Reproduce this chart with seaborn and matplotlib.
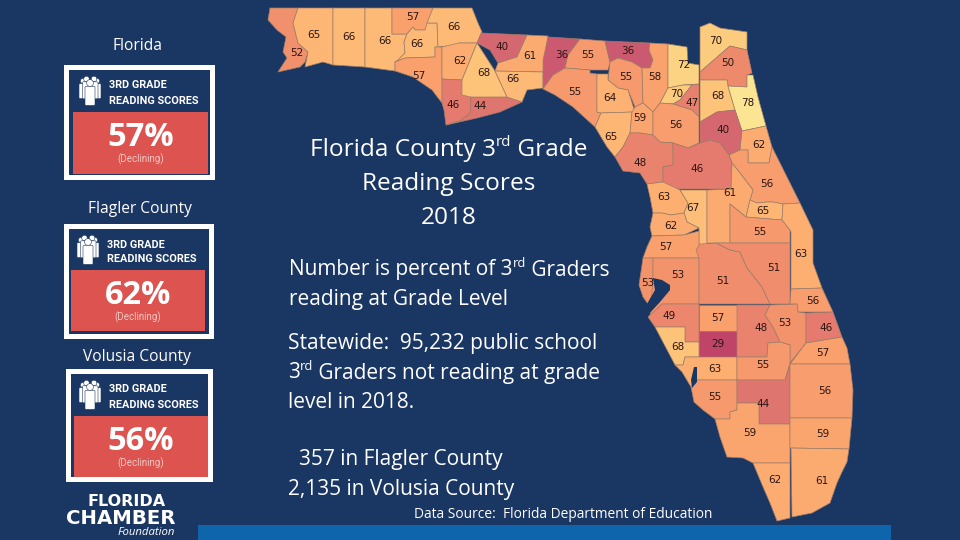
import matplotlib
matplotlib.use("Agg")
import matplotlib.pyplot as plt
import seaborn as sns
from matplotlib.patches import Rectangle, Circle, FancyBboxPatch, Polygon

# map is traced in picture pixels, so the axes run 0-960 / 540-0
navy = '#1a3663'
red = '#dc5350'
edge = '#a07f68'
bar_blue = '#0e65ab'

county_names = ['Escambia', 'Santa Rosa', 'Okaloosa', 'Walton', 'Holmes', 'Washington', 'Jackson', 'Bay',
                'Calhoun', 'Gulf', 'Franklin', 'Liberty', 'Gadsden', 'Leon', 'Wakulla', 'Jefferson',
                'Madison', 'Taylor', 'Hamilton', 'Suwannee', 'Columbia', 'Lafayette', 'Dixie', 'Gilchrist',
                'Baker', 'Union', 'Bradford', 'Alachua', 'Nassau', 'Duval', 'Clay', 'St Johns',
                'Putnam', 'Flagler', 'Volusia', 'Levy', 'Marion', 'Citrus', 'Sumter', 'Hernando',
                'Pasco', 'Lake', 'Seminole', 'Orange', 'Brevard', 'Pinellas', 'Hillsborough', 'Polk',
                'Osceola', 'Indian River', 'Manatee', 'Hardee', 'DeSoto', 'Sarasota', 'Highlands', 'Okeechobee',
                'St Lucie', 'Martin', 'Charlotte', 'Glades', 'Lee', 'Hendry', 'Collier', 'Palm Beach',
                'Broward', 'Dade', 'Monroe']
county_scores = [52, 65, 66, 66, 57, 66, 66, 57,
                 62, 46, 44, 68, 40, 61, 66, 36,
                 55, 55, 36, 55, 58, 64, 65, 59,
                 72, 70, 47, 56, 70, 50, 68, 78,
                 40, 62, 56, 48, 46, 63, 67, 62,
                 57, 61, 65, 55, 63, 53, 53, 51,
                 51, 56, 49, 57, 29, 68, 48, 53,
                 46, 57, 63, 55, 55, 44, 59, 56,
                 59, 61, 62]

county_outlines = {
    'Escambia': [(270,8),(298,8),(293,23),(298,43),(308,52),(305,62),(300,67),(278,72),(287,58),(283,52),(286,37),(277,30),(268,20)],
    'Santa Rosa': [(298,8),(333,8),(333,65),(323,62),(305,67),(308,52),(298,43),(293,23)],
    'Okaloosa': [(333,8),(365,8),(365,67),(333,65)],
    'Walton': [(365,8),(392,8),(392,34),(407,34),(404,42),(405,53),(398,60),(395,62),(395,71),(365,67)],
    'Holmes': [(392,8),(433,8),(425,30),(415,30),(413,27),(407,34),(392,34)],
    'Washington': [(407,34),(413,27),(415,30),(425,30),(427,23),(437,23),(438,47),(435,47),(435,57),(405,58),(395,62),(398,60),(405,53),(404,42)],
    'Jackson': [(433,8),(472,8),(478,23),(482,32),(477,43),(459,43),(458,45),(438,47),(437,23),(427,23)],
    'Bay': [(395,62),(405,58),(435,57),(435,47),(442,47),(442,103),(432,90),(413,77),(395,71)],
    'Calhoun': [(442,47),(459,43),(477,43),(462,80),(442,79)],
    'Gulf': [(442,79),(462,80),(471,97),(470,113),(460,121),(446,125),(444,110),(442,103)],
    'Franklin': [(471,97),(507,97),(522,102),(500,112),(477,118),(446,125),(460,121),(470,113)],
    'Liberty': [(477,43),(495,71),(507,97),(471,97),(462,95),(462,80)],
    'Gadsden': [(481,33),(527,35),(517,57),(498,63),(490,50),(477,43)],
    'Leon': [(527,35),(548,36),(543,72),(495,71),(498,63),(517,57)],
    'Wakulla': [(495,71),(543,72),(543,88),(527,90),(522,102),(507,97)],
    'Jefferson': [(548,37),(580,39),(568,55),(565,68),(553,75),(543,89),(543,60)],
    'Madison': [(580,39),(605,41),(610,62),(608,70),(590,70),(565,68),(568,55)],
    'Taylor': [(565,68),(590,70),(590,73),(597,74),(597,112),(601,113),(595,127),(573,107),(555,95),(543,89),(553,75)],
    'Hamilton': [(605,41),(650,43),(649,50),(653,60),(650,68),(642,68),(632,62),(618,58),(610,62)],
    'Suwannee': [(610,62),(618,58),(632,62),(642,68),(643,103),(635,107),(628,90),(618,88),(608,80)],
    'Columbia': [(650,43),(668,44),(668,88),(660,103),(653,112),(643,103),(642,68),(650,68),(653,60),(649,50)],
    'Lafayette': [(597,74),(608,74),(608,80),(618,88),(628,90),(635,112),(601,113),(597,112)],
    'Dixie': [(601,113),(632,112),(630,133),(623,147),(615,157),(607,147),(595,127)],
    'Gilchrist': [(635,107),(643,103),(653,112),(653,135),(640,133),(630,133),(632,112)],
    'Baker': [(668,44),(687,47),(688,63),(699,65),(699,84),(683,85),(668,88)],
    'Union': [(668,88),(683,85),(692,85),(680,100),(673,104),(660,103)],
    'Bradford': [(692,85),(699,84),(699,117),(692,110),(673,104),(680,100)],
    'Alachua': [(660,103),(673,104),(692,110),(699,117),(699,143),(688,148),(673,143),(660,142),(653,135),(653,112)],
    'Nassau': [(700,27),(710,23),(720,28),(747,32),(747,50),(730,46),(700,72)],
    'Duval': [(700,72),(730,46),(747,50),(752,73),(747,75),(747,87),(728,86),(727,80),(700,80)],
    'Clay': [(700,80),(727,80),(728,86),(735,110),(717,112),(700,122)],
    'St Johns': [(728,86),(747,87),(747,75),(753,75),(758,97),(766,126),(742,131),(735,110)],
    'Putnam': [(700,122),(717,112),(735,110),(742,131),(740,150),(729,155),(720,143),(710,140),(700,143)],
    'Flagler': [(742,131),(766,126),(772,147),(769,163),(748,163),(748,150),(740,150)],
    'Volusia': [(729,155),(740,150),(748,150),(748,163),(769,163),(772,147),(800,203),(783,204),(773,202),(767,202),(757,203),(750,200),(753,190),(740,173),(732,163)],
    'Levy': [(630,133),(640,133),(653,135),(660,142),(673,143),(673,165),(663,167),(663,182),(647,184),(640,173),(623,171),(615,157),(623,147)],
    'Marion': [(673,143),(688,148),(700,143),(710,140),(720,143),(729,155),(732,163),(731,189),(663,189),(663,167),(673,165)],
    'Citrus': [(647,184),(663,182),(680,190),(688,203),(684,213),(671,215),(662,213),(653,213),(650,197)],
    'Sumter': [(680,190),(707,190),(707,246),(699,246),(699,228),(687,222),(684,213),(688,203)],
    'Hernando': [(653,213),(662,213),(671,215),(684,213),(687,222),(699,228),(684,235),(652,236),(650,227)],
    'Pasco': [(652,236),(684,235),(699,231),(699,258),(643,258),(647,247)],
    'Lake': [(707,190),(731,189),(732,163),(740,173),(753,190),(750,200),(746,217),(730,204),(730,243),(707,243)],
    'Seminole': [(746,217),(750,200),(757,203),(767,202),(773,202),(783,204),(782,220)],
    'Orange': [(730,204),(746,217),(782,220),(790,230),(790,243),(730,243)],
    'Brevard': [(783,204),(800,203),(813,230),(813,263),(822,288),(791,289),(791,232),(790,230),(782,220)],
    'Pinellas': [(643,258),(653,258),(653,278),(655,290),(648,304),(643,297),(639,285)],
    'Hillsborough': [(653,258),(699,258),(699,304),(662,304),(650,316),(653,278)],
    'Polk': [(699,258),(696,250),(700,244),(716,243),(730,250),(740,252),(747,268),(762,287),(770,304),(699,304)],
    'Osceola': [(716,243),(790,243),(790,304),(770,304),(762,287),(747,268),(740,252),(730,250)],
    'Indian River': [(791,289),(822,288),(833,312),(798,312),(797,304),(790,304)],
    'Manatee': [(648,317),(662,304),(699,304),(699,342),(685,342),(685,327),(655,327)],
    'Hardee': [(699,305),(737,305),(737,331),(699,331)],
    'DeSoto': [(699,331),(737,331),(737,357),(699,357)],
    'Sarasota': [(655,327),(685,327),(685,342),(699,342),(699,357),(685,357),(683,365),(675,365)],
    'Highlands': [(737,305),(770,305),(765,315),(773,327),(780,342),(768,343),(767,357),(737,357)],
    'Okeechobee': [(770,305),(797,304),(798,312),(806,313),(806,343),(790,363),(790,345),(780,342),(773,327),(765,315)],
    'St Lucie': [(806,313),(833,312),(842,337),(806,343)],
    'Martin': [(806,343),(842,337),(847,348),(850,364),(790,364)],
    'Charlotte': [(675,365),(683,365),(685,357),(737,357),(737,380),(697,380),(691,387),(682,372)],
    'Glades': [(737,357),(767,357),(768,343),(780,342),(790,345),(790,363),(785,380),(737,380)],
    'Lee': [(691,387),(697,380),(737,380),(737,410),(730,412),(730,419),(715,419),(703,410),(694,402)],
    'Hendry': [(737,380),(785,380),(790,364),(790,424),(759,424),(759,403),(737,403)],
    'Collier': [(715,419),(730,419),(730,412),(737,410),(737,403),(759,403),(759,424),(790,424),(790,463),(753,463),(743,458),(727,457),(720,437)],
    'Palm Beach': [(790,364),(850,364),(853,390),(852,418),(790,418)],
    'Broward': [(790,418),(852,418),(849,449),(790,448)],
    'Dade': [(791,448),(849,449),(847,462),(842,472),(837,483),(830,503),(812,513),(792,517)],
    'Monroe': [(753,463),(790,463),(790,518),(777,521),(770,503),(763,487)],
}

label_spots = {
    'Escambia': (297,53), 'Santa Rosa': (314,35), 'Okaloosa': (349,37), 'Walton': (385,41), 'Holmes': (413,17),
    'Washington': (417,44), 'Jackson': (454,27), 'Bay': (419,76), 'Calhoun': (460,61), 'Gulf': (453,105),
    'Franklin': (480,106), 'Liberty': (484,73), 'Gadsden': (502,47), 'Leon': (530,56), 'Wakulla': (513,79),
    'Jefferson': (562,55), 'Madison': (588,55), 'Taylor': (575,92), 'Hamilton': (628,51), 'Suwannee': (626,77),
    'Columbia': (655,77), 'Lafayette': (610,98), 'Dixie': (611,137), 'Gilchrist': (640,118), 'Baker': (684,65),
    'Union': (677,94), 'Bradford': (692,103), 'Alachua': (676,125), 'Nassau': (716,41), 'Duval': (728,63),
    'Clay': (718,96), 'St Johns': (748,103), 'Putnam': (723,130), 'Flagler': (759,145), 'Volusia': (767,184),
    'Levy': (640,163), 'Marion': (697,169), 'Citrus': (664,197), 'Sumter': (693,208), 'Hernando': (671,226),
    'Pasco': (666,247), 'Lake': (730,193), 'Seminole': (763,211), 'Orange': (760,232), 'Brevard': (801,254),
    'Pinellas': (648,283), 'Hillsborough': (678,275), 'Polk': (723,281), 'Osceola': (774,268), 'Indian River': (813,301),
    'Manatee': (669,316), 'Hardee': (718,318), 'DeSoto': (718,344), 'Sarasota': (678,347), 'Highlands': (761,328),
    'Okeechobee': (785,323), 'St Lucie': (826,328), 'Martin': (823,353), 'Charlotte': (715,369), 'Glades': (763,365),
    'Lee': (715,397), 'Hendry': (763,404), 'Collier': (750,433), 'Palm Beach': (825,391), 'Broward': (823,434),
    'Dade': (822,481), 'Monroe': (775,480),
}

# bays cut into the west coast
bay_outlines = [
    [(653,278),(662,280),(670,285),(670,290),(660,302),(648,315),(647,304),(655,290)],
    [(694,367),(697,367),(697,382),(692,388),(691,380)],
]

badge_names = ['Florida', 'Flagler County', 'Volusia County']
badge_scores = ['57%', '62%', '56%']

sns.set_theme(style='white')
plt.rcParams['font.family'] = ['Open Sans', 'DejaVu Sans']

fig = plt.figure(figsize=(9.6, 5.4), dpi=100, facecolor=navy)
ax = fig.add_axes([0, 0, 1, 1])
ax.set_xlim(0, 960)
ax.set_ylim(540, 0)
ax.axis('off')

# score colours, yellow for high down to crimson for low
score_cmap = sns.blend_palette(['#bf4468', '#cb5a70', '#dd7170', '#ee8a6c', '#f9a06d', '#fdb172', '#fbd07f', '#fbe592'], as_cmap=True)
lo, hi = min(county_scores), max(county_scores)

for name, score in zip(county_names, county_scores):
    ax.add_patch(Polygon(county_outlines[name], closed=True, facecolor=score_cmap((score - lo) / (hi - lo)),
                         edgecolor=edge, linewidth=0.5, joinstyle='round'))
    x, y = label_spots[name]
    ax.text(x, y, str(score), ha='center', va='center', fontsize=7.5, color='#2a1512',
            family=['DejaVu Sans'], zorder=4)
for bay in bay_outlines:
    ax.add_patch(Polygon(bay, closed=True, facecolor=navy, edgecolor='none', zorder=3))

ax.add_patch(Rectangle((198, 525), 693, 15, facecolor=bar_blue, edgecolor='none'))


def people(x, y):
    # x, y = top-left of the icon, drawn as five white figures
    for dx, dy, r, w, h in [(4, 5, 2.6, 8, 15), (18, 5, 2.6, 8, 15), (7.5, 3, 2.8, 8, 17), (15, 3, 2.8, 8, 17), (11, 7, 3.4, 10, 19)]:
        ax.add_patch(Circle((x + dx, y + dy - 1), r, facecolor='white', edgecolor=navy, linewidth=0.4, zorder=5))
        ax.add_patch(FancyBboxPatch((x + dx - w / 2 + 1, y + dy + r), w - 2, h - 2, boxstyle='round,pad=1',
                                    facecolor='white', edgecolor=navy, linewidth=0.4, zorder=5))


def badge(outer, red_box, title_x, score):
    x0, y0, x1, y1 = outer
    ax.add_patch(Rectangle((x0, y0), x1 - x0, y1 - y0, facecolor='white', edgecolor='none'))
    ax.add_patch(Rectangle((x0 + 5, y0 + 5), x1 - x0 - 10, y1 - y0 - 10, facecolor=navy, edgecolor='none'))
    rx0, ry0, rx1, ry1 = red_box
    ax.add_patch(Rectangle((rx0, ry0), rx1 - rx0, ry1 - ry0, facecolor=red, edgecolor='none'))
    people(title_x - 30, y0 + 12)
    ax.text(title_x, y0 + 20.5, '3RD GRADE', color='white', fontsize=7.8, weight='bold', va='center',
            family=['Roboto'])
    ax.text(title_x, y0 + 35.5, 'READING SCORES', color='white', fontsize=7.8, weight='bold', va='center',
            family=['Roboto'])
    mid = (rx0 + rx1) / 2
    ax.text(mid, ry0 + 25, score, color='white', fontsize=23.5, weight='bold', ha='center', va='center')
    ax.text(mid, ry0 + 47, '(Declining)', color='#f3c6c2', fontsize=7, ha='center', va='center',
            family=['Roboto'])


badge((64, 65, 215, 180), (73, 112, 208, 174), 109, badge_scores[0])
badge((64, 224, 214, 339), (71, 270, 205, 331), 107, badge_scores[1])
badge((66, 369, 213, 482), (74, 416, 208, 477), 109, badge_scores[2])

for name, x, y in zip(badge_names, [137, 139.5, 137], [46, 209, 357]):
    ax.text(x, y, name, color='white', fontsize=11.2, ha='center', va='center')


def line(x, y, runs, size, center=False):
    # runs are (text, raised) pairs, laid end to end so "rd" can sit high and small
    renderer = fig.canvas.get_renderer()
    parts = []
    for words, raised in runs:
        t = ax.text(x, y + 2 - (size * 0.42 if raised else 0), words, color='white', va='center',
                    fontsize=size * 0.62 if raised else size)
        parts.append(t)
    widths = [p.get_window_extent(renderer).width for p in parts]
    px = x - sum(widths) / 2 if center else x
    for p, w in zip(parts, widths):
        p.set_x(px)
        px += w


line(449, 148, [('Florida County 3', False), ('rd', True), (' Grade', False)], 17.6, center=True)
line(449, 182, [('Reading Scores', False)], 17.6, center=True)
line(449, 216, [('2018', False)], 17.6, center=True)
line(289, 268, [('Number is percent of 3', False), ('rd', True), (' Graders', False)], 15)
line(289, 297, [('reading at Grade Level', False)], 15)
line(288, 342, [('Statewide:  95,232 public school', False)], 15)
line(288, 371, [('3', False), ('rd', True), (' Graders not reading at grade', False)], 15)
line(288, 400, [('level in 2018.', False)], 15)
line(299, 458, [('357 in Flagler County', False)], 15)
line(288, 487, [('2,135 in Volusia County', False)], 15)
line(414, 513, [('Data Source:  Florida Department of Education', False)], 9.9)

# logo lettering
ax.text(127, 506, 'FLORIDA', color='white', fontsize=11.5, weight='heavy', ha='center', va='baseline', family=['DejaVu Sans'])
ax.text(120.5, 524, 'CHAMBER', color='white', fontsize=14.2, weight='heavy', ha='center', va='baseline', family=['DejaVu Sans'])
ax.text(175, 535, 'Foundation', color='white', fontsize=8.2, style='italic', ha='right', va='baseline')

fig.savefig('out.png', dpi=100, facecolor=navy)
